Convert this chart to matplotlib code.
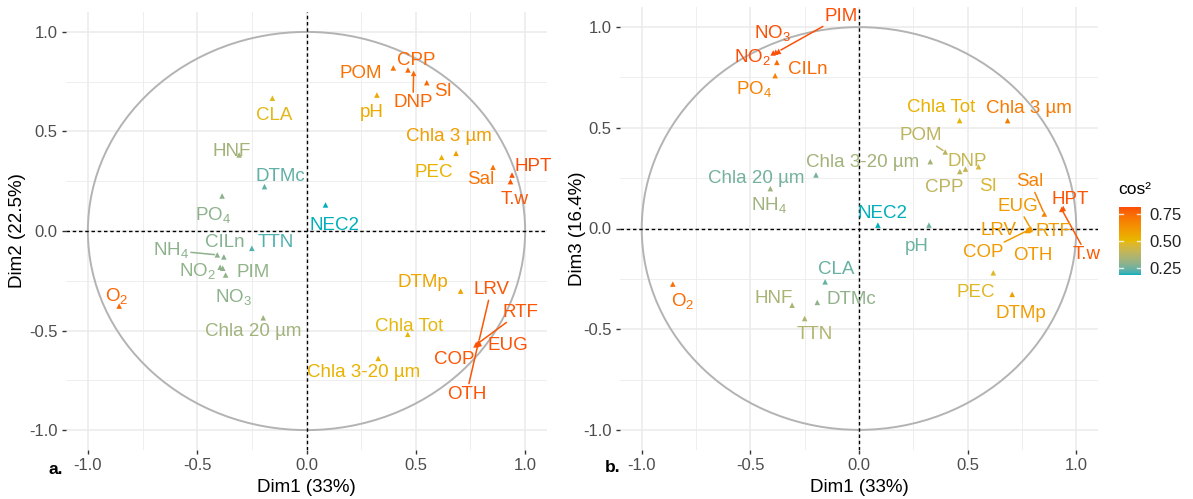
import numpy as np
import matplotlib
matplotlib.use("Agg")
import matplotlib.pyplot as plt
from matplotlib.colors import ListedColormap, Normalize
from matplotlib.patches import Circle
import matplotlib.colorbar as mcolorbar

plt.rcParams['font.family'] = ['Liberation Sans', 'DejaVu Sans']
plt.rcParams['mathtext.fontset'] = 'custom'
plt.rcParams['mathtext.rm'] = 'Liberation Sans'
plt.rcParams['mathtext.it'] = 'Liberation Sans:italic'
plt.rcParams['mathtext.default'] = 'regular'

# ---------------- data ----------------
variables = ["POM", "CPP", "DNP", "SI", "pH", "Chla 3 µm", "PEC", "Sal", "HPT", "T.w",
             "CLA", "HNF", "DTMc", "PO4", "NEC2", "TTN", "CILn", "NH4", "NO2", "PIM",
             "NO3", "O2", "Chla 20 µm", "DTMp", "Chla Tot", "Chla 3-20 µm",
             "LRV", "RTF", "EUG", "COP", "OTH"]
dim1 = [0.397, 0.464, 0.490, 0.550, 0.322, 0.684, 0.618, 0.853, 0.940, 0.933,
        -0.156, -0.308, -0.192, -0.386, 0.087, -0.250, -0.378, -0.408, -0.395, -0.370,
        -0.383, -0.857, -0.198, 0.705, 0.463, 0.328,
        0.787, 0.775, 0.790, 0.780, 0.785]
dim2 = [0.819, 0.809, 0.792, 0.745, 0.683, 0.390, 0.370, 0.320, 0.281, 0.248,
        0.667, 0.382, 0.223, 0.176, 0.131, -0.087, -0.130, -0.120, -0.182, -0.221,
        -0.187, -0.377, -0.436, -0.302, -0.519, -0.640,
        -0.561, -0.572, -0.565, -0.568, -0.566]
dim3 = [0.380, 0.283, 0.295, 0.307, 0.017, 0.536, -0.220, 0.072, 0.100, 0.095,
        -0.265, -0.381, -0.367, 0.759, 0.017, -0.447, 0.825, 0.198, 0.872, 0.880,
        0.876, -0.276, 0.266, -0.327, 0.536, 0.332,
        -0.005, -0.010, 0.000, -0.008, -0.003]
# quality of representation (cos2) in each plane
cos2_12 = [0.83, 0.87, 0.87, 0.86, 0.57, 0.62, 0.52, 0.83, 0.96, 0.93,
           0.47, 0.24, 0.09, 0.18, 0.02, 0.07, 0.16, 0.18, 0.19, 0.19,
           0.18, 0.88, 0.23, 0.59, 0.48, 0.52,
           0.93, 0.93, 0.94, 0.93, 0.94]
cos2_13 = [0.30, 0.30, 0.33, 0.40, 0.10, 0.76, 0.43, 0.73, 0.89, 0.88,
           0.09, 0.24, 0.17, 0.73, 0.01, 0.26, 0.82, 0.21, 0.92, 0.91,
           0.91, 0.81, 0.11, 0.60, 0.50, 0.22,
           0.62, 0.60, 0.62, 0.61, 0.62]
xlabel = "Dim1 (33%)"
ylabel_a = "Dim2 (22.5%)"
ylabel_b = "Dim3 (16.4%)"
ticks = [-1.0, -0.5, 0.0, 0.5, 1.0]
legend_ticks = [0.25, 0.50, 0.75]
legend_range = (0.19, 0.81)
gradient_cols = ["#00AFBB", "#E7B800", "#FC4E07"]

display = {"PO4": "PO$_4$", "NH4": "NH$_4$", "NO2": "NO$_2$", "NO3": "NO$_3$", "O2": "O$_2$"}

# ---------------- label layout (repel result) ----------------
lab_a = {"POM": (0.25, 0.80), "CPP": (0.50, 0.865), "DNP": (0.487, 0.655), "SI": (0.624, 0.71),
         "pH": (0.30, 0.605), "Chla 3 µm": (0.652, 0.487), "PEC": (0.583, 0.305), "Sal": (0.798, 0.27),
         "HPT": (1.035, 0.335), "T.w": (0.95, 0.17), "CLA": (-0.149, 0.588), "HNF": (-0.34, 0.407),
         "DTMc": (-0.121, 0.286), "PO4": (-0.428, 0.095), "NEC2": (0.126, 0.04), "TTN": (-0.14, -0.05),
         "CILn": (-0.375, -0.048), "NH4": (-0.62, -0.085), "NO2": (-0.50, -0.19), "PIM": (-0.242, -0.196),
         "NO3": (-0.334, -0.32), "O2": (-0.867, -0.312), "Chla 20 µm": (-0.245, -0.497),
         "DTMp": (0.533, -0.251), "Chla Tot": (0.469, -0.47), "Chla 3-20 µm": (0.261, -0.701),
         "LRV": (0.844, -0.286), "RTF": (0.979, -0.397), "EUG": (0.919, -0.565), "COP": (0.677, -0.633),
         "OTH": (0.732, -0.809)}
seg_a = {"DNP", "NH4", "LRV", "RTF", "OTH"}

lab_b = {"PIM": (-0.081, 1.065), "NO3": (-0.40, 0.985), "NO2": (-0.491, 0.865), "CILn": (-0.235, 0.80),
         "PO4": (-0.482, 0.705), "Chla Tot": (0.378, 0.612), "Chla 3 µm": (0.783, 0.604),
         "POM": (0.286, 0.47), "DNP": (0.50, 0.341), "CPP": (0.392, 0.214), "SI": (0.594, 0.219),
         "Sal": (0.788, 0.241), "HPT": (0.972, 0.154), "T.w": (1.048, -0.12), "EUG": (0.733, 0.119),
         "LRV": (0.643, 0.0), "RTF": (0.896, -0.007), "OTH": (0.802, -0.124), "COP": (0.571, -0.109),
         "PEC": (0.539, -0.306), "DTMp": (0.747, -0.413), "pH": (0.265, -0.08), "NEC2": (0.106, 0.082),
         "Chla 3-20 µm": (0.018, 0.34), "Chla 20 µm": (-0.475, 0.259), "NH4": (-0.412, 0.13),
         "CLA": (-0.104, -0.194), "HNF": (-0.392, -0.338), "DTMc": (-0.037, -0.343),
         "TTN": (-0.203, -0.517), "O2": (-0.813, -0.35)}
seg_b = {"PIM", "POM", "Sal", "T.w", "EUG", "COP"}


# ---------------- Lab-interpolated gradient (as in ggplot2) ----------------
def hex2rgb(h):
    h = h.lstrip('#')
    return np.array([int(h[i:i + 2], 16) / 255.0 for i in (0, 2, 4)])

M = np.array([[0.4124564, 0.3575761, 0.1804375],
              [0.2126729, 0.7151522, 0.0721750],
              [0.0193339, 0.1191920, 0.9503041]])
WHITE = np.array([0.95047, 1.0, 1.08883])

def rgb2lab(c):
    lin = np.where(c <= 0.04045, c / 12.92, ((c + 0.055) / 1.055) ** 2.4)
    xyz = M @ lin / WHITE
    d = 6 / 29
    f = np.where(xyz > d ** 3, np.cbrt(xyz), xyz / (3 * d * d) + 4 / 29)
    return np.array([116 * f[1] - 16, 500 * (f[0] - f[1]), 200 * (f[1] - f[2])])

def lab2rgb(lab):
    L, a, b = lab
    fy = (L + 16) / 116
    fx = fy + a / 500
    fz = fy - b / 200
    d = 6 / 29
    f = np.array([fx, fy, fz])
    xyz = np.where(f > d, f ** 3, 3 * d * d * (f - 4 / 29)) * WHITE
    lin = np.linalg.solve(M, xyz)
    lin = np.clip(lin, 0, 1)
    c = np.where(lin <= 0.0031308, 12.92 * lin, 1.055 * lin ** (1 / 2.4) - 0.055)
    return np.clip(c, 0, 1)

labs = [rgb2lab(hex2rgb(h)) for h in gradient_cols]
cols = []
for t in np.linspace(0, 1, 256):
    if t <= 0.5:
        u = t / 0.5
        lab = labs[0] * (1 - u) + labs[1] * u
    else:
        u = (t - 0.5) / 0.5
        lab = labs[1] * (1 - u) + labs[2] * u
    cols.append(lab2rgb(lab))
cmap = ListedColormap(cols)

# ---------------- figure ----------------
W, H = 1193, 499
fig = plt.figure(figsize=(W / 100, H / 100), dpi=100)

def ax_rect(x0, y0, x1, y1):
    return [x0 / W, 1 - y1 / H, (x1 - x0) / W, (y1 - y0) / H]

ax_a = fig.add_axes(ax_rect(66, 12, 547, 450))
ax_b = fig.add_axes(ax_rect(620, 7, 1098, 450))

def fmt(v):
    return ("%.1f" % v).replace("\u2212", "-")

def draw_panel(ax, ys, cos2, labpos, segs):
    ax.set_xlim(-1.1, 1.1)
    ax.set_ylim(-1.1, 1.1)
    for s in ax.spines.values():
        s.set_visible(False)
    ax.set_xticks(ticks)
    ax.set_yticks(ticks)
    ax.set_xticklabels([fmt(t) for t in ticks])
    ax.set_yticklabels([fmt(t) for t in ticks])
    ax.set_xticks([-0.75, -0.25, 0.25, 0.75], minor=True)
    ax.set_yticks([-0.75, -0.25, 0.25, 0.75], minor=True)
    ax.tick_params(which='major', length=3, width=1.0, color='#333333',
                   labelsize=12, labelcolor='#4D4D4D', pad=3)
    ax.tick_params(which='minor', length=0)
    ax.grid(which='major', color='#EBEBEB', lw=1.1, zorder=0)
    ax.grid(which='minor', color='#EBEBEB', lw=0.6, zorder=0)
    ax.set_axisbelow(True)
    ax.add_patch(Circle((0, 0), 1.0, fill=False, ec='#B3B3B3', lw=1.4, zorder=1))
    ax.axhline(0, color='black', lw=1.0, ls=(0, (2.5, 2)), zorder=2)
    ax.axvline(0, color='black', lw=1.0, ls=(0, (2.5, 2)), zorder=2)
    norm = Normalize(min(cos2), max(cos2))
    colors = cmap(norm(np.array(cos2)))
    ax.scatter(dim1, ys, c=colors, marker='^', s=16, linewidths=0, zorder=3)
    for name, x, y, c in zip(variables, dim1, ys, colors):
        lx, ly = labpos[name]
        txt = display.get(name, name)
        if name in segs:
            ax.annotate(txt, xy=(x, y), xytext=(lx, ly), textcoords='data',
                        ha='center', va='center_baseline', fontsize=13.5, color=c,
                        bbox=dict(boxstyle='square,pad=0.1', fc='none', ec='none'),
                        arrowprops=dict(arrowstyle='-', color=c, lw=1.1,
                                        shrinkA=0, shrinkB=2), zorder=4,
                        annotation_clip=False)
        else:
            ax.text(lx, ly, txt, ha='center', va='center_baseline',
                    fontsize=13.5, color=c, zorder=4, clip_on=False)

draw_panel(ax_a, dim2, cos2_12, lab_a, seg_a)
draw_panel(ax_b, dim3, cos2_13, lab_b, seg_b)

# axis titles
fig.text(306 / W, 1 - 488 / H, xlabel, ha='center', va='center', fontsize=13.5)
fig.text(859 / W, 1 - 488 / H, xlabel, ha='center', va='center', fontsize=13.5)
fig.text(18 / W, 1 - 231 / H, ylabel_a, ha='center', va='center', rotation=90, fontsize=13.5)
fig.text(578 / W, 1 - 229 / H, ylabel_b, ha='center', va='center', rotation=90, fontsize=13.5)
fig.text(56 / W, 1 - 470 / H, "a.", ha='center', va='center', fontsize=12.5, fontweight='bold')
fig.text(613 / W, 1 - 467 / H, "b.", ha='center', va='center', fontsize=12.5, fontweight='bold')

# colour legend
cax = fig.add_axes(ax_rect(1119, 207, 1141, 275))
cb = mcolorbar.ColorbarBase(cax, cmap=cmap, norm=Normalize(*legend_range), orientation='vertical')
cb.outline.set_visible(False)
cb.set_ticks(legend_ticks)
cb.set_ticklabels(["%.2f" % t for t in legend_ticks])
cax.tick_params(length=0, labelsize=12, labelcolor='#222222', pad=6)
for t in legend_ticks:
    cax.plot([0, 0.2], [t, t], color='white', lw=1, alpha=0.8)
    cax.plot([0.8, 1.0], [t, t], color='white', lw=1, alpha=0.8)
cax.set_xlim(0, 1)
fig.text(1118 / W, 1 - 190 / H, "cos\u00b2", ha='left', va='center', fontsize=12.5)

fig.savefig("out.png", dpi=100)
